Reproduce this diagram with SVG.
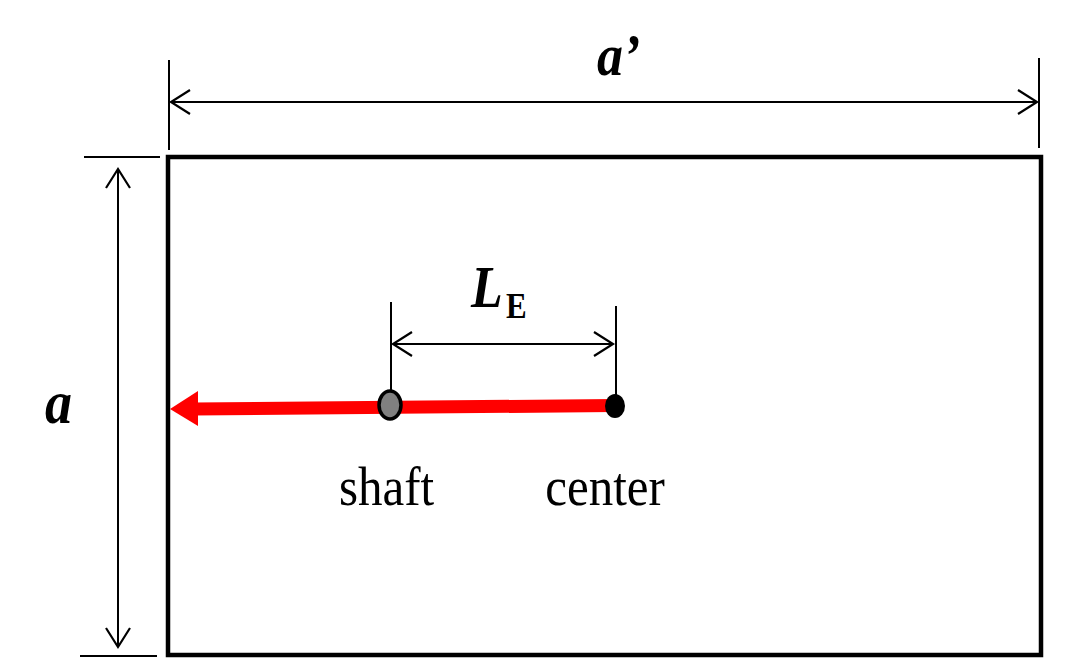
<svg xmlns="http://www.w3.org/2000/svg" width="1082" height="658" viewBox="0 0 1082 658">
<style>
.dim{stroke:#000;stroke-width:2;fill:none}
.lbl{font-family:"Liberation Serif","Times New Roman",serif;fill:#000}
.bi{font-weight:bold;font-style:italic}
</style>
<defs>
<marker id="oa" markerUnits="userSpaceOnUse" markerWidth="30" markerHeight="30" viewBox="-22 -15 26 30" refX="0" refY="0" orient="auto-start-reverse">
<path d="M-19,-12 L0,0 L-19,12" fill="none" stroke="#000" stroke-width="2.2"/>
</marker>
</defs>
<rect width="1082" height="658" fill="#fff"/>
<g id="plate">
<rect x="168" y="157" width="873" height="498" fill="none" stroke="#000" stroke-width="4.5"/>
</g>
<g id="connectors">
<line class="dim" x1="169" y1="60" x2="169" y2="150"/>
<line class="dim" x1="1039" y1="58" x2="1039" y2="148"/>
<line class="dim" x1="171" y1="102" x2="1037" y2="102" marker-start="url(#oa)" marker-end="url(#oa)"/>
<line class="dim" x1="84" y1="157" x2="160" y2="157"/>
<line class="dim" x1="80" y1="656" x2="157" y2="656"/>
<line class="dim" x1="118" y1="169" x2="118" y2="647" marker-start="url(#oa)" marker-end="url(#oa)"/>
<line class="dim" x1="391" y1="302" x2="391" y2="392"/>
<line class="dim" x1="616" y1="306" x2="616" y2="400"/>
<line class="dim" x1="393" y1="344" x2="613" y2="344" marker-start="url(#oa)" marker-end="url(#oa)"/>
<g id="force">
<line x1="194" y1="409" x2="615" y2="405.5" stroke="#f00" stroke-width="13"/>
<polygon points="170,409 198,391 198,426" fill="#f00"/>
</g>
</g>
<g id="shaft">
<ellipse cx="390" cy="405" rx="11" ry="14" fill="#808080" stroke="#000" stroke-width="3.5"/>
<text class="lbl" transform="translate(386.5,505) scale(1,1.12)" font-size="49" text-anchor="middle">shaft</text>
</g>
<g id="center">
<ellipse cx="615" cy="406" rx="10" ry="12" fill="#000"/>
<text class="lbl" transform="translate(605,505) scale(1,1.12)" font-size="49" text-anchor="middle">center</text>
</g>
<g id="labels">
<text class="lbl bi" transform="translate(597,75) scale(1,1.15)" font-size="52">a’</text>
<text class="lbl bi" transform="translate(45,423) scale(1,1.15)" font-size="54">a</text>
<text class="lbl" transform="translate(471,307) scale(1,1.13)"><tspan class="bi" font-size="52">L</tspan></text>
<text class="lbl" transform="translate(506,318) scale(1,1.13)" font-size="31" font-weight="bold">E</text>
</g>
</svg>
